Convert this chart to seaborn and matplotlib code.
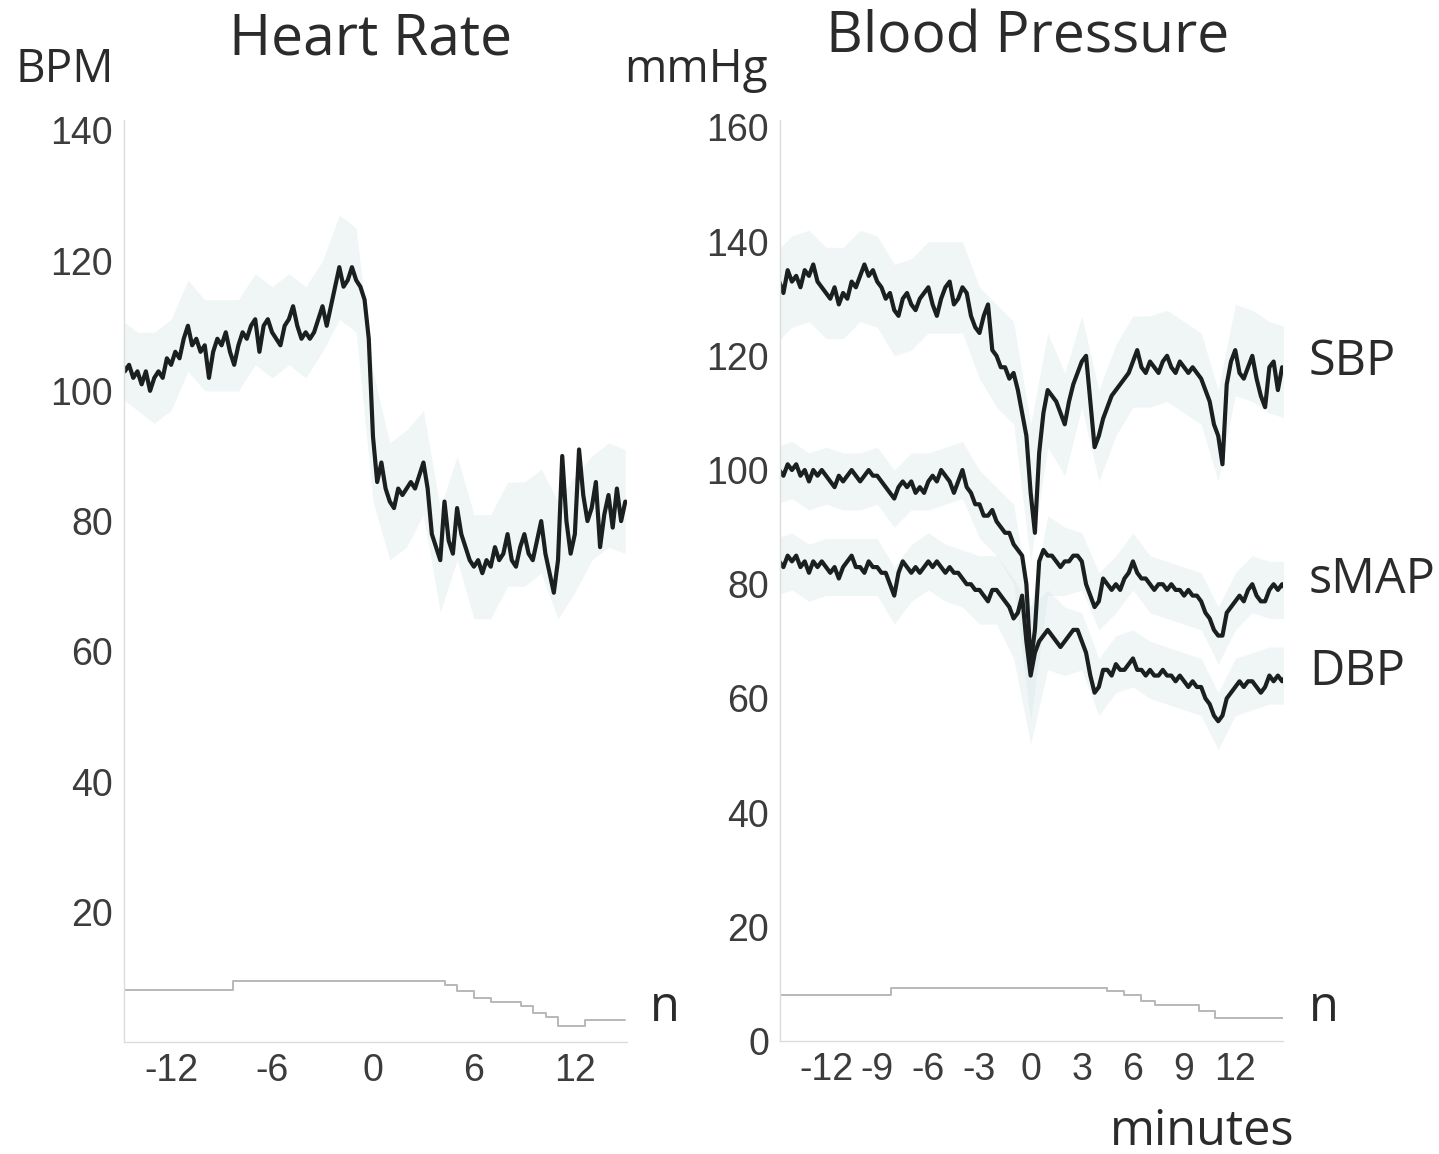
import numpy as np
import matplotlib
matplotlib.use("Agg")
import matplotlib.pyplot as plt
import seaborn as sns

# -----------------------------
# data (read off the figure), sampled every 0.25 min from -15 to 15
# -----------------------------
minutes = np.linspace(-15, 15, 121)

heart_rate = [
    105, 103, 104, 102,  103, 101, 103, 100,  102, 103, 102, 105,
    104, 106, 105, 108,  110, 107, 108, 106,  107, 102, 106, 108,
    107, 109, 106, 104,  107, 109, 108, 110,  111, 106, 110, 111,
    109, 108, 107, 110,  111, 113, 110, 108,  109, 108, 109, 111,
    113, 110, 113, 116,  119, 116, 117, 119,  117, 116, 114, 108,
    93, 86, 89, 85,      83, 82, 85, 84,      85, 86, 85, 87,
    89, 85, 78, 76,      74, 83, 77, 75,      82, 78, 76, 74,
    73, 74, 72, 74,      73, 76, 74, 75,      78, 74, 73, 76,
    78, 75, 74, 77,      80, 75, 72, 69,      74, 90, 80, 75,
    78, 91, 84, 80,      82, 86, 76, 81,      84, 79, 85, 80,
    83,
]

sbp = [
    130, 133, 131, 135,  133, 134, 132, 135,  134, 136, 133, 132,
    131, 130, 132, 129,  131, 130, 133, 132,  134, 136, 134, 135,
    133, 132, 130, 131,  128, 127, 130, 131,  129, 128, 130, 131,
    132, 129, 127, 130,  132, 133, 129, 130,  132, 131, 127, 125,
    124, 127, 129, 121,  120, 118, 118, 116,  117, 114, 110, 106,
    96, 89, 103, 110,    114, 113, 112, 110,  108, 112, 115, 117,
    119, 120, 112, 104,  106, 109, 111, 113,  114, 115, 116, 117,
    119, 121, 118, 117,  119, 118, 117, 119,  120, 118, 117, 119,
    118, 117, 118, 117,  116, 114, 112, 108,  106, 101, 115, 119,
    121, 117, 116, 118,  120, 116, 113, 111,  118, 119, 114, 118,
    117,
]

smap = [
    99, 100, 99, 101,    100, 101, 99, 100,   98, 100, 99, 100,
    99, 98, 97, 99,      98, 99, 100, 99,     98, 99, 100, 99,
    99, 98, 97, 96,      95, 97, 98, 97,      98, 96, 97, 96,
    98, 99, 98, 100,     99, 98, 96, 98,      100, 97, 96, 94,
    94, 92, 92, 93,      91, 90, 89, 89,      87, 86, 85, 80,
    66, 72, 84, 86,      85, 85, 84, 83,      84, 84, 85, 85,
    84, 80, 78, 76,      77, 81, 80, 79,      80, 79, 81, 82,
    84, 82, 81, 81,      80, 79, 80, 80,      79, 80, 79, 79,
    78, 79, 78, 78,      77, 75, 74, 72,      71, 71, 75, 76,
    77, 78, 77, 79,      80, 78, 77, 77,      79, 80, 79, 80,
    79,
]

dbp = [
    83, 84, 83, 85,      84, 85, 83, 84,      82, 84, 83, 84,
    83, 82, 83, 81,      83, 84, 85, 83,      83, 82, 84, 83,
    83, 82, 82, 80,      78, 82, 84, 83,      82, 83, 82, 83,
    84, 83, 84, 83,      82, 83, 82, 82,      81, 80, 80, 79,
    79, 78, 77, 79,      79, 78, 77, 76,      74, 75, 78, 70,
    64, 68, 70, 71,      72, 71, 70, 69,      70, 71, 72, 72,
    70, 68, 64, 61,      62, 65, 65, 64,      66, 65, 65, 66,
    67, 65, 65, 64,      65, 64, 64, 65,      64, 64, 63, 64,
    63, 62, 63, 62,      62, 60, 59, 57,      56, 57, 60, 61,
    62, 63, 62, 63,      63, 62, 61, 62,      64, 63, 64, 63,
    64,
]

# spread (half width of the shaded band), one value per whole minute
hr_sd = [6, 6, 7, 7, 7, 7, 7, 7, 7, 7, 7, 7, 7, 8, 8,
         10, 9, 9, 8, 8, 8, 8, 8, 8, 8, 8, 9, 9, 8, 8, 8]
sbp_sd = [8, 8, 8, 8, 8, 8, 8, 8, 8, 8, 8, 8, 8, 9, 9,
          12, 10, 9, 8, 8, 8, 8, 8, 8, 8, 8, 8, 8, 8, 8, 8]
smap_sd = [5, 5, 5, 5, 5, 5, 5, 5, 5, 5, 5, 5, 6, 6, 7,
           10, 7, 6, 5, 5, 5, 5, 5, 5, 5, 5, 5, 5, 5, 5, 5]
dbp_sd = [5, 5, 5, 5, 5, 5, 5, 5, 5, 5, 5, 5, 6, 6, 7,
          12, 7, 6, 5, 5, 5, 5, 5, 5, 5, 5, 5, 5, 5, 5, 5]

# number of subjects contributing (step line at the bottom)
hr_n_time = [-15, -8.3, 4.3, 5, 6, 7, 8.8, 9.5, 10.3, 11, 12.6, 15]
hr_n = [8, 9.3, 8.7, 7.8, 6.8, 6.2, 5.5, 4.5, 3.8, 2.4, 3.4, 3.4]
bp_n_time = [-15, -8.2, 4.5, 5.5, 6.5, 7.3, 9.9, 10.8, 15]
bp_n = [8, 9.3, 8.8, 8, 7, 6.3, 5.3, 4, 4]

# -----------------------------
# style
# -----------------------------
sns.set_theme(style="white")
plt.rcParams["font.family"] = ["Open Sans", "DejaVu Sans"]
plt.rcParams["axes.unicode_minus"] = False

line_col = "#1c1f1f"
band_col = "#d6e7e7"
tick_col = "#3c3c3c"
text_col = "#2b2b2b"
n_col = "#b8b8b8"

fig = plt.figure(figsize=(14.39, 11.54), dpi=100)
ax_hr = fig.add_axes([124 / 1439, 1 - 1042 / 1154, 503 / 1439, 922 / 1154])
ax_bp = fig.add_axes([780 / 1439, 1 - 1041 / 1154, 503 / 1439, 921 / 1154])

band_t = minutes[::4]


def draw_trace(ax, y, sd):
    y = np.asarray(y, dtype=float)
    sd = np.asarray(sd, dtype=float)
    ax.fill_between(band_t, y[::4] - sd, y[::4] + sd, color=band_col,
                    alpha=0.35, lw=0)
    sns.lineplot(x=minutes, y=y, ax=ax, color=line_col, lw=3.0)


draw_trace(ax_hr, heart_rate, hr_sd)
sns.lineplot(x=hr_n_time, y=hr_n, ax=ax_hr, color=n_col, lw=1.4,
             drawstyle="steps-post")

draw_trace(ax_bp, sbp, sbp_sd)
draw_trace(ax_bp, smap, smap_sd)
draw_trace(ax_bp, dbp, dbp_sd)
sns.lineplot(x=bp_n_time, y=bp_n, ax=ax_bp, color=n_col, lw=1.4,
             drawstyle="steps-post")

# axes cosmetics
ax_hr.set_xlim(-14.8, 15.1)
ax_hr.set_ylim(0, 141.6)
ax_hr.set_xticks([-12, -9, -6, -3, 0, 3, 6, 9, 12])
ax_hr.set_xticklabels(["-12", "", "-6", "", "0", "", "6", "", "12"])
ax_hr.set_yticks([20, 40, 60, 80, 100, 120, 140])

ax_bp.set_xlim(-14.7, 14.8)
ax_bp.set_ylim(0, 161.3)
ax_bp.set_xticks([-12, -9, -6, -3, 0, 3, 6, 9, 12])
ax_bp.set_yticks([0, 20, 40, 60, 80, 100, 120, 140, 160])

for ax in (ax_hr, ax_bp):
    sns.despine(ax=ax)
    ax.set_xlabel("")
    ax.set_ylabel("")
    for side in ("left", "bottom"):
        ax.spines[side].set_color("#dcdcdc")
        ax.spines[side].set_linewidth(1.0)
    ax.tick_params(axis="both", which="major", length=3, width=0.8,
                   color="#d0d0d0", labelcolor=tick_col, labelsize=27,
                   pad=5, direction="out")
    for lab in ax.get_xticklabels() + ax.get_yticklabels():
        lab.set_family(["Liberation Sans", "DejaVu Sans"])

# titles, units and labels
fig.text(371 / 1439, 1 - 40 / 1154, "Heart Rate", ha="center", va="center",
         fontsize=41, color=text_col)
fig.text(1028 / 1439, 1 - 38 / 1154, "Blood Pressure", ha="center",
         va="center", fontsize=41, color=text_col)
fig.text(65 / 1439, 1 - 70 / 1154, "BPM", ha="center", va="center",
         fontsize=33, color=text_col)
fig.text(696 / 1439, 1 - 70 / 1154, "mmHg", ha="center", va="center",
         fontsize=33, color=text_col)

side_labels = [("SBP", 362), ("sMAP", 580), ("DBP", 672), ("n", 1008)]
for txt, ypx in side_labels:
    fig.text(1309 / 1439, 1 - ypx / 1154, txt, ha="left", va="center",
             fontsize=35, color=text_col)
fig.text(650 / 1439, 1 - 1008 / 1154, "n", ha="left", va="center",
         fontsize=35, color=text_col)
fig.text(1202 / 1439, 1 - 1132 / 1154, "minutes", ha="center",
         va="center", fontsize=35, color=text_col)

fig.savefig("out.png", dpi=100, facecolor="white")
